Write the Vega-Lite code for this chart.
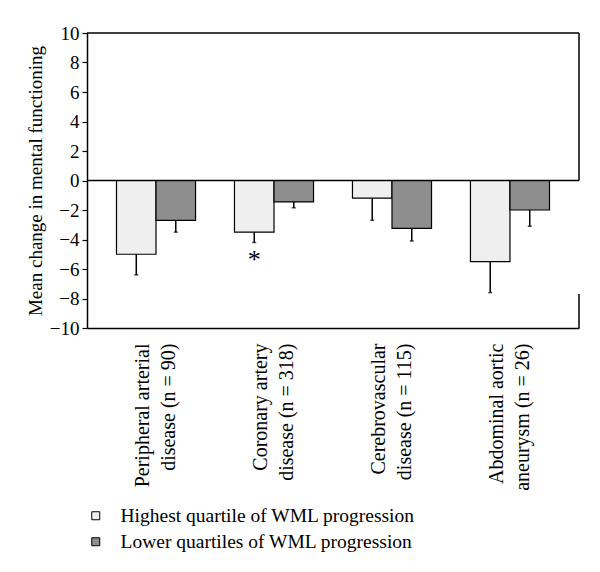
{
  "$schema": "https://vega.github.io/schema/vega-lite/v6.json",
  "width": 492,
  "height": 295,
  "padding": {"left": 26, "top": 24, "right": 5, "bottom": 5},
  "config": {"view": {"stroke": null}, "font": "Liberation Serif", "axisY": {"labelOverlap": false}},
  "datasets": {
    "bars": [
      {"disease": "Peripheral arterial|disease (n = 90)", "group": "Highest quartile of WML progression", "mean": -5.0, "lower": -6.4},
      {"disease": "Peripheral arterial|disease (n = 90)", "group": "Lower quartiles of WML progression", "mean": -2.7, "lower": -3.5},
      {"disease": "Coronary artery|disease (n = 318)", "group": "Highest quartile of WML progression", "mean": -3.5, "lower": -4.2},
      {"disease": "Coronary artery|disease (n = 318)", "group": "Lower quartiles of WML progression", "mean": -1.45, "lower": -1.85},
      {"disease": "Cerebrovascular|disease (n = 115)", "group": "Highest quartile of WML progression", "mean": -1.2, "lower": -2.7},
      {"disease": "Cerebrovascular|disease (n = 115)", "group": "Lower quartiles of WML progression", "mean": -3.25, "lower": -4.1},
      {"disease": "Abdominal aortic|aneurysm (n = 26)", "group": "Highest quartile of WML progression", "mean": -5.5, "lower": -7.6},
      {"disease": "Abdominal aortic|aneurysm (n = 26)", "group": "Lower quartiles of WML progression", "mean": -2.0, "lower": -3.1}
    ],
    "frame": [{"top": 10, "bottom": 0}, {"top": -7.7, "bottom": -10}],
    "lines": [{"v": 0}, {"v": 10}],
    "marks": [{"disease": "Coronary artery|disease (n = 318)", "group": "Highest quartile of WML progression", "y": -5.4, "label": "*"}]
  },
  "layer": [
    {
      "data": {"name": "bars"},
      "mark": {"type": "bar", "stroke": "black", "strokeWidth": 1.2},
      "encoding": {
        "x": {
          "field": "disease",
          "type": "nominal",
          "sort": null,
          "scale": {"paddingInner": 0.33, "paddingOuter": 0.25},
          "axis": {
            "title": null,
            "labelAngle": -90,
            "labelExpr": "split(datum.label, '|')",
            "labelFontSize": 20,
            "labelColor": "black",
            "labelLineHeight": 26,
            "labelLimit": 0,
            "labelPadding": 15,
            "labelOffset": -13,
            "ticks": false,
            "domainColor": "black",
            "domainWidth": 1.5
          }
        },
        "xOffset": {"field": "group", "sort": null, "scale": {"paddingInner": 0, "paddingOuter": 0}},
        "y": {
          "field": "mean",
          "type": "quantitative",
          "scale": {"domain": [-10, 10], "nice": false},
          "axis": {
            "values": [-10, -8, -6, -4, -2, 0, 2, 4, 6, 8, 10],
            "tickCount": 11,
            "labelOverlap": false,
            "title": "Mean change in mental functioning",
            "titleFontSize": 19,
            "titleFontWeight": "normal",
            "titleColor": "black",
            "titlePadding": 4,
            "labelFontSize": 19,
            "labelColor": "black",
            "labelPadding": 3,
            "grid": false,
            "domainColor": "black",
            "domainWidth": 1.5,
            "tickColor": "black",
            "tickSize": 5,
            "tickWidth": 1.2
          }
        },
        "color": {
          "field": "group",
          "type": "nominal",
          "sort": null,
          "scale": {"range": ["#efefef", "#8e8e8e"]},
          "legend": {
            "orient": "none",
            "legendX": -1,
            "legendY": 473,
            "title": null,
            "symbolType": "square",
            "symbolSize": 64,
            "symbolStrokeColor": "black",
            "symbolStrokeWidth": 1,
            "labelFontSize": 19.5,
            "labelColor": "black",
            "labelOffset": 15,
            "labelLimit": 0,
            "rowPadding": 5
          }
        }
      }
    },
    {
      "data": {"name": "bars"},
      "mark": {"type": "rule", "strokeWidth": 1.5, "color": "black"},
      "encoding": {
        "x": {"field": "disease", "type": "nominal", "sort": null},
        "xOffset": {"field": "group", "sort": null},
        "y": {"field": "mean", "type": "quantitative"},
        "y2": {"field": "lower"}
      }
    },
    {
      "data": {"name": "bars"},
      "mark": {"type": "tick", "thickness": 1.5, "size": 4, "color": "black"},
      "encoding": {
        "x": {"field": "disease", "type": "nominal", "sort": null},
        "xOffset": {"field": "group", "sort": null},
        "y": {"field": "lower", "type": "quantitative"}
      }
    },
    {
      "data": {"name": "lines"},
      "mark": {"type": "rule", "strokeWidth": 1.5, "color": "black"},
      "encoding": {"y": {"field": "v", "type": "quantitative"}}
    },
    {
      "data": {"name": "frame"},
      "mark": {"type": "rule", "strokeWidth": 1.5, "color": "black"},
      "encoding": {
        "x": {"value": "width"},
        "y": {"field": "top", "type": "quantitative"},
        "y2": {"field": "bottom"}
      }
    },
    {
      "data": {"name": "marks"},
      "mark": {"type": "text", "fontSize": 26, "baseline": "middle", "color": "black"},
      "encoding": {
        "x": {"field": "disease", "type": "nominal", "sort": null},
        "xOffset": {"field": "group", "sort": null},
        "y": {"field": "y", "type": "quantitative"},
        "text": {"field": "label"}
      }
    }
  ]
}
